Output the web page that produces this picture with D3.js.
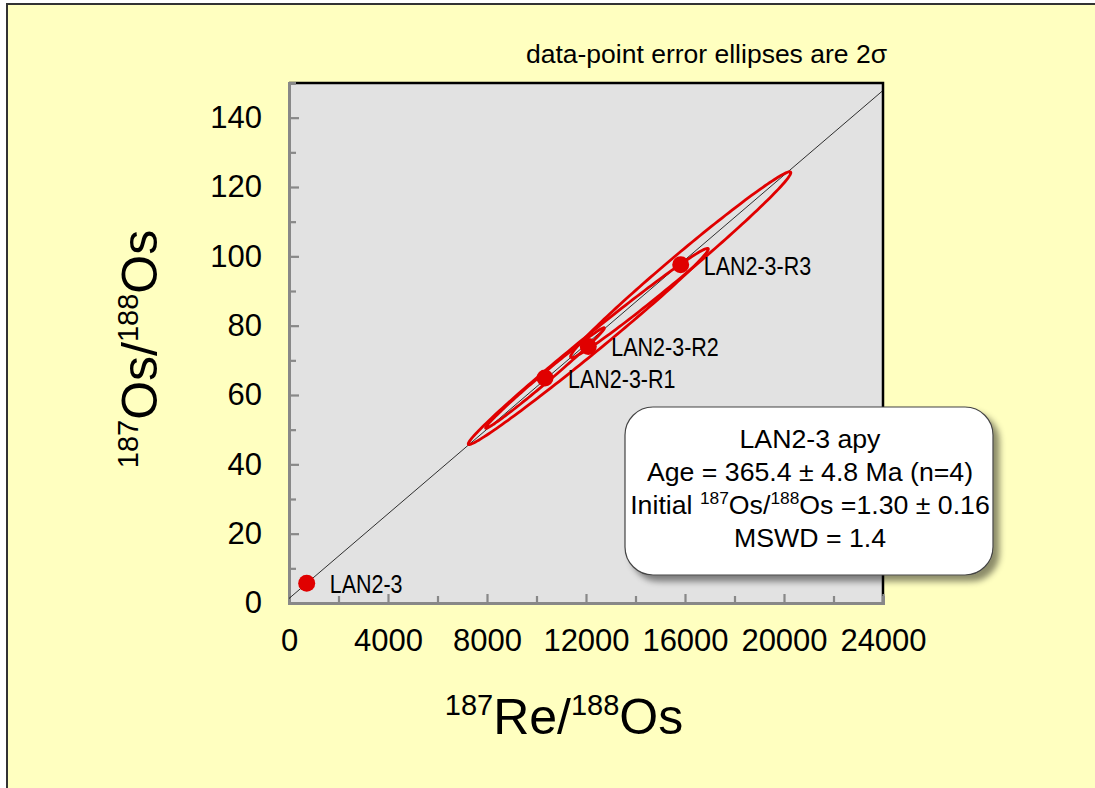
<!DOCTYPE html>
<html>
<head>
<meta charset="utf-8">
<script src="https://cdn.jsdelivr.net/npm/d3@7"></script>
<style>
  html, body { margin: 0; padding: 0; background: #fff; }
  svg { display: block; }
  text { font-family: "Liberation Sans", Arial, sans-serif; fill: #000; }
</style>
</head>
<body>
<svg id="chart" width="1095" height="788"></svg>
<script>
// Re-Os isochron data (2-sigma errors, error correlation)
const samples  = ["LAN2-3", "LAN2-3-R1", "LAN2-3-R2", "LAN2-3-R3"];
const reOs     = [715, 10343, 12093, 15826];      // 187Re/188Os
const osOs     = [5.7, 64.9, 74.0, 97.6];         // 187Os/188Os
const reOsErr  = [40, 2400, 4850, 4450];          // 2σ on 187Re/188Os
const osOsErr  = [0.3, 14.5, 28.3, 26.8];         // 2σ on 187Os/188Os
const errRho   = [0.9, 0.993, 0.993, 0.99];       // error correlation

// Isochron regression result
const ageMa      = 365.4;
const initialOs  = 1.30;
const lambda187  = 1.666e-11;                     // 187Re decay constant (1/yr)

// Axis ticks
const xTicks = [0, 4000, 8000, 12000, 16000, 20000, 24000];
const xMinor = [2000, 6000, 10000, 14000, 18000, 22000];
const yTicks = [0, 20, 40, 60, 80, 100, 120, 140];
const yMinor = [10, 30, 50, 70, 90, 110, 130];

const summaryLines = [
  [{t: "LAN2-3 apy"}],
  [{t: "Age = 365.4 ± 4.8 Ma (n=4)"}],
  [{t: "Initial "}, {t: "187", sup: true}, {t: "Os/"}, {t: "188", sup: true}, {t: "Os =1.30 ± 0.16"}],
  [{t: "MSWD = 1.4"}]
];

const svg = d3.select("#chart");
const red = "#e00000";

const x = d3.scaleLinear().domain([0, 24000]).range([289, 883]);
const y = d3.scaleLinear().domain([0, 150]).range([603, 83]);

// drop shadow for the result box
const defs = svg.append("defs");
const f = defs.append("filter").attr("id", "shadow").attr("x", "-10%").attr("y", "-10%").attr("width", "130%").attr("height", "140%");
f.append("feDropShadow").attr("dx", 6).attr("dy", 6).attr("stdDeviation", 3)
  .attr("flood-color", "#000").attr("flood-opacity", 0.45);

// page background
svg.append("rect").attr("x", 7).attr("y", 4).attr("width", 1100).attr("height", 800)
  .attr("fill", "#ffffc0").attr("stroke", "#333").attr("stroke-width", 2);

// plot area
svg.append("rect")
  .attr("x", x(0)).attr("y", y(150))
  .attr("width", x(24000) - x(0)).attr("height", y(0) - y(150))
  .attr("fill", "#e2e2e2");
// top and right frame lines
svg.append("path")
  .attr("d", `M${x(0)},${y(150)}H${x(24000)}V${y(0)}`)
  .attr("fill", "none").attr("stroke", "#000").attr("stroke-width", 2.5);

// axes
function styleAxis(g) {
  g.select(".domain").attr("stroke", "#888").attr("stroke-width", 3);
  g.selectAll(".tick line").attr("stroke", "#888").attr("stroke-width", 2.2);
  g.selectAll(".tick text").attr("font-size", 31).attr("font-family", '"Liberation Sans", Arial, sans-serif').attr("fill", "#000");
}

svg.append("g").attr("transform", `translate(0,${y(0)})`)
  .call(d3.axisBottom(x).tickValues(xMinor).tickSize(-7).tickFormat(""))
  .call(styleAxis);
svg.append("g").attr("transform", `translate(0,${y(0)})`)
  .call(d3.axisBottom(x).tickValues(xTicks).tickSizeInner(-9).tickSizeOuter(0).tickPadding(26).tickFormat(d3.format("d")))
  .call(styleAxis);

svg.append("g").attr("transform", `translate(${x(0)},0)`)
  .call(d3.axisLeft(y).tickValues(yMinor).tickSize(-7).tickFormat(""))
  .call(styleAxis);
svg.append("g").attr("transform", `translate(${x(0)},0)`)
  .call(d3.axisLeft(y).tickValues(yTicks).tickSizeInner(-10).tickSizeOuter(0).tickPadding(27).tickFormat(d3.format("d")))
  .call(styleAxis);

// isochron
const slope = Math.expm1(lambda187 * ageMa * 1e6);
const xEnd = 24000;
svg.append("line")
  .attr("x1", x(0)).attr("y1", y(initialOs))
  .attr("x2", x(xEnd)).attr("y2", y(initialOs + slope * xEnd))
  .attr("stroke", "#000").attr("stroke-width", 0.8);

// error ellipses
const tSteps = d3.range(0, 361, 2).map(d => d * Math.PI / 180);
const ellLine = d3.line();
samples.forEach((s, i) => {
  const r = errRho[i], q = Math.sqrt(1 - r * r);
  const pts = tSteps.map(t => [
    x(reOs[i] + reOsErr[i] * Math.cos(t)),
    y(osOs[i] + osOsErr[i] * (r * Math.cos(t) + q * Math.sin(t)))
  ]);
  svg.append("path").attr("d", ellLine(pts) + "Z")
    .attr("fill", "none").attr("stroke", red).attr("stroke-width", 2.8);
});

// data points
svg.selectAll("circle.pt").data(samples).join("circle")
  .attr("class", "pt")
  .attr("cx", (d, i) => x(reOs[i])).attr("cy", (d, i) => y(osOs[i]))
  .attr("r", 8.5).attr("fill", red);

// point labels (narrow face)
samples.forEach((s, i) => {
  svg.append("text")
    .attr("transform", `translate(${x(reOs[i]) + 23},${y(osOs[i]) + 10}) scale(0.86,1)`)
    .attr("font-size", 25).text(s);
});

// rich text with superscripts
function richText(sel, parts, size, supRatio) {
  parts.forEach((p, k) => {
    const prevSup = k > 0 && parts[k - 1].sup;
    const ts = sel.append("tspan").text(p.t);
    if (p.sup) {
      ts.attr("font-size", size * supRatio).attr("dy", prevSup ? 0 : -size * 0.38);
    } else if (prevSup) {
      ts.attr("dy", size * 0.38);
    }
  });
}

// axis titles
const xTitle = [{t: "187", sup: true}, {t: "Re/"}, {t: "188", sup: true}, {t: "Os"}];
const yTitle = [{t: "187", sup: true}, {t: "Os/"}, {t: "188", sup: true}, {t: "Os"}];

richText(svg.append("text")
  .attr("transform", "translate(564,734)")
  .attr("text-anchor", "middle").attr("font-size", 50), xTitle, 50, 0.58);

richText(svg.append("text")
  .attr("transform", "translate(157,349) rotate(-90)")
  .attr("text-anchor", "middle").attr("font-size", 50), yTitle, 50, 0.58);

// note
svg.append("text").attr("x", 887).attr("y", 63).attr("text-anchor", "end")
  .attr("font-size", 26.5).text("data-point error ellipses are 2σ");

// result box
const box = svg.append("g");
box.append("rect").attr("x", 625).attr("y", 407).attr("width", 368).attr("height", 168)
  .attr("rx", 28).attr("ry", 28)
  .attr("fill", "#fff").attr("stroke", "#444").attr("stroke-width", 1.2)
  .attr("filter", "url(#shadow)");
const baselines = [448, 481, 514, 547];
summaryLines.forEach((parts, k) => {
  richText(box.append("text").attr("x", 810).attr("y", baselines[k])
    .attr("text-anchor", "middle").attr("font-size", 26.7), parts, 26.7, 0.65);
});
</script>
</body>
</html>
